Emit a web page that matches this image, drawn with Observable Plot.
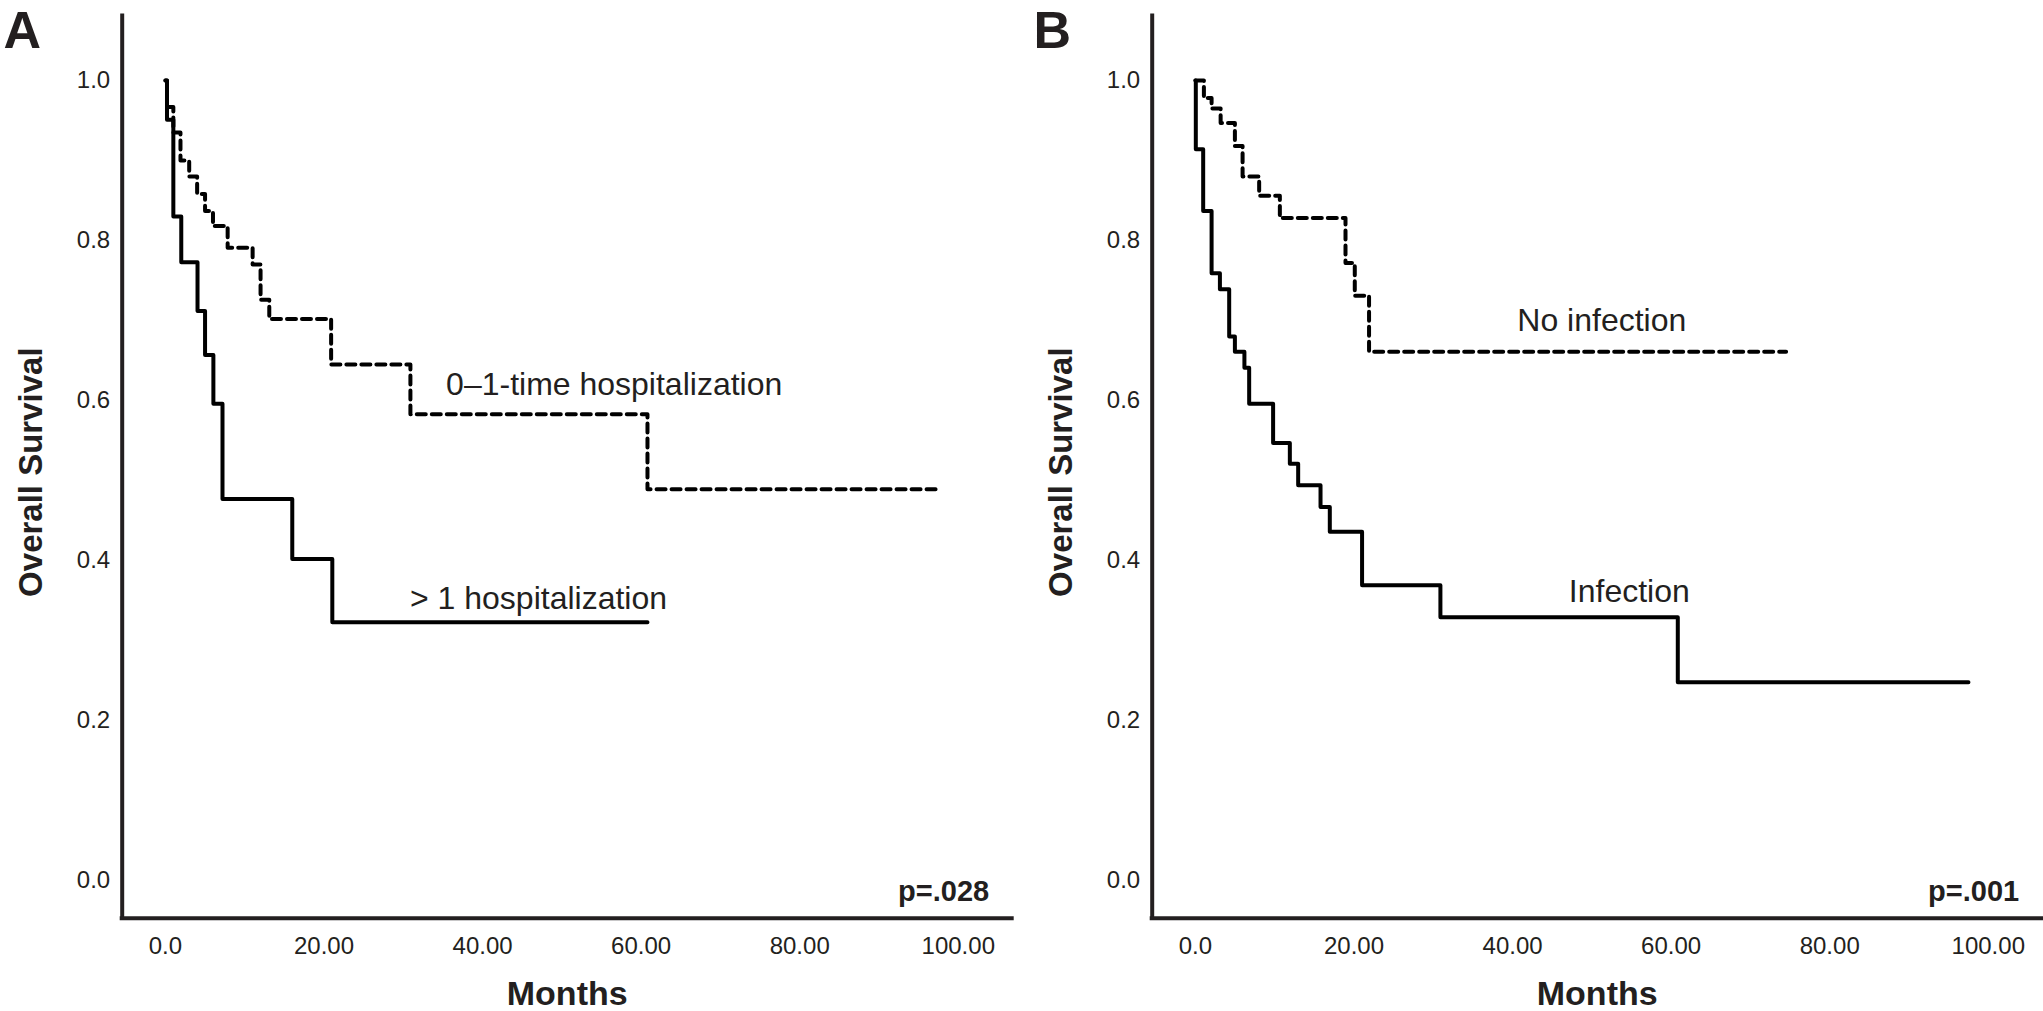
<!DOCTYPE html>
<html>
<head>
<meta charset="utf-8">
<script src="https://cdn.jsdelivr.net/npm/d3@7"></script>
<script src="https://cdn.jsdelivr.net/npm/@observablehq/plot@0.6"></script>
<style>
  html, body { margin: 0; padding: 0; background: #fff; }
  #wrap { position: relative; width: 2043px; height: 1011px; overflow: hidden; background: #fff; }
  #wrap > div { position: absolute; top: 0; }
</style>
</head>
<body>
<div id="wrap"><div id="pa" style="left:0"></div><div id="pb" style="left:1030px"></div></div>
<script>
// ---------- data ----------
// Panel A: > 1 hospitalization (solid)
const aHighTime = [0, 0.2, 1.0, 2.0, 4.05, 5.0, 6.05, 7.2, 16.0, 21.05, 60.8];
const aHighSurv = [1.0, 0.951, 0.830, 0.773, 0.712, 0.657, 0.596, 0.477, 0.402, 0.323, 0.323];
// Panel A: 0–1-time hospitalization (dashed)
const aLowTime = [0, 0.2, 1.0, 1.9, 3.0, 4.0, 5.0, 6.0, 7.85, 11.0, 12.0, 13.1, 20.9, 30.9, 60.8, 97.3];
const aLowSurv = [1.0, 0.967, 0.935, 0.900, 0.880, 0.858, 0.837, 0.818, 0.791, 0.770, 0.726, 0.702, 0.645, 0.583, 0.489, 0.489];
// Panel B: Infection (solid)
const bInfTime = [0, 0.05, 0.98, 2.04, 3.09, 4.26, 4.98, 6.18, 6.78, 9.8, 11.91, 12.96, 15.78, 16.95, 21.02, 30.9, 60.84, 97.5];
const bInfSurv = [1.0, 0.914, 0.837, 0.759, 0.739, 0.680, 0.661, 0.641, 0.596, 0.547, 0.521, 0.494, 0.467, 0.436, 0.369, 0.329, 0.248, 0.248];
// Panel B: No infection (dashed)
const bNoTime = [0, 1.07, 2.04, 3.18, 4.98, 5.95, 8.04, 10.65, 18.93, 20.1, 21.9, 74.5];
const bNoSurv = [1.0, 0.978, 0.965, 0.947, 0.918, 0.880, 0.856, 0.828, 0.772, 0.731, 0.661, 0.661];

const xTickValues = [0, 20, 40, 60, 80, 100];
const xTickLabels = ["0.0", "20.00", "40.00", "60.00", "80.00", "100.00"];
const yTickValues = [0, 0.2, 0.4, 0.6, 0.8, 1.0];
const yTickLabels = ["0.0", "0.2", "0.4", "0.6", "0.8", "1.0"];

const panelLetters = ["A", "B"];
const pValues = ["p=.028", "p=.001"];
const aLabels = ["0–1-time hospitalization", "> 1 hospitalization"];
const bLabels = ["No infection", "Infection"];
const xTitle = "Months";
const yTitle = "Overall Survival";

// ---------- drawing ----------
const FONT = "'Liberation Sans', Arial, Helvetica, sans-serif";
const INK = "#231f20";
const X_DOMAIN = [-5.45, 106.8];
const Y_DOMAIN = [-0.047, 1.0805];
const M_LEFT = 121.7, M_TOP = 15.6, M_BOTTOM = 93.3;

const series = (t, s) => t.map((v, i) => ({time: v, surv: s[i]}));

function panel({width, marginRight, letter, pval, solid, dashed, labelDefs}) {
  return Plot.plot({
    width, height: 1011,
    marginLeft: M_LEFT, marginRight, marginTop: M_TOP, marginBottom: M_BOTTOM,
    style: {fontFamily: FONT, color: INK, background: "#fff", overflow: "visible"},
    x: {domain: X_DOMAIN},
    y: {domain: Y_DOMAIN},
    marks: [
      Plot.axisX(xTickValues, {tickSize: 0, tickPadding: 19, fontSize: 24, label: null,
        tickFormat: d => xTickLabels[xTickValues.indexOf(d)], fill: INK}),
      Plot.axisY(yTickValues, {tickSize: 0, tickPadding: 12, fontSize: 24, label: null,
        tickFormat: d => yTickLabels[yTickValues.indexOf(d)], fill: INK}),
      Plot.line(dashed, {x: "time", y: "surv", curve: "step-after", stroke: "#000",
        strokeWidth: 4, strokeDasharray: "9,6"}),
      Plot.line(solid, {x: "time", y: "surv", curve: "step-after", stroke: "#000",
        strokeWidth: 4}),
      Plot.ruleX([X_DOMAIN[0]], {stroke: INK, strokeWidth: 4, strokeLinecap: "square"}),
      Plot.ruleY([Y_DOMAIN[0]], {stroke: INK, strokeWidth: 4, strokeLinecap: "square"}),
      Plot.text(labelDefs, {x: "x", y: "y", text: "text", textAnchor: "start",
        lineAnchor: "bottom", fontSize: 32, fill: INK}),
      Plot.text([pval], {x: 103.9, y: -0.026, text: d => d, textAnchor: "end",
        lineAnchor: "bottom", fontSize: 29, fontWeight: "bold", fill: INK}),
      Plot.text([xTitle], {frameAnchor: "bottom", dy: 86.3, text: d => d,
        lineAnchor: "bottom", fontSize: 34, fontWeight: "bold", fill: INK}),
      Plot.text([yTitle], {frameAnchor: "left", dx: 41.7 - M_LEFT, dy: 5, rotate: -90,
        text: d => d, textAnchor: "middle", lineAnchor: "bottom", fontSize: 33,
        fontWeight: "bold", fill: INK}),
      Plot.text([letter], {frameAnchor: "top-left", dx: 3 - M_LEFT, dy: 47 - M_TOP,
        text: d => d, textAnchor: "start", lineAnchor: "bottom", fontSize: 52,
        fontWeight: "bold", fill: INK})
    ]
  });
}

document.getElementById("pa").append(panel({
  width: 1030, marginRight: 18.3, letter: panelLetters[0], pval: pValues[0],
  solid: series(aHighTime, aHighSurv), dashed: series(aLowTime, aLowSurv),
  labelDefs: [
    {text: aLabels[0], x: 35.4, y: 0.607},
    {text: aLabels[1], x: 30.85, y: 0.340}
  ]
}));

document.getElementById("pb").append(panel({
  width: 1013, marginRight: 1.3, letter: panelLetters[1], pval: pValues[1],
  solid: series(bInfTime, bInfSurv), dashed: series(bNoTime, bNoSurv),
  labelDefs: [
    {text: bLabels[0], x: 40.6, y: 0.6875},
    {text: bLabels[1], x: 47.1, y: 0.348}
  ]
}));
</script>
</body>
</html>
